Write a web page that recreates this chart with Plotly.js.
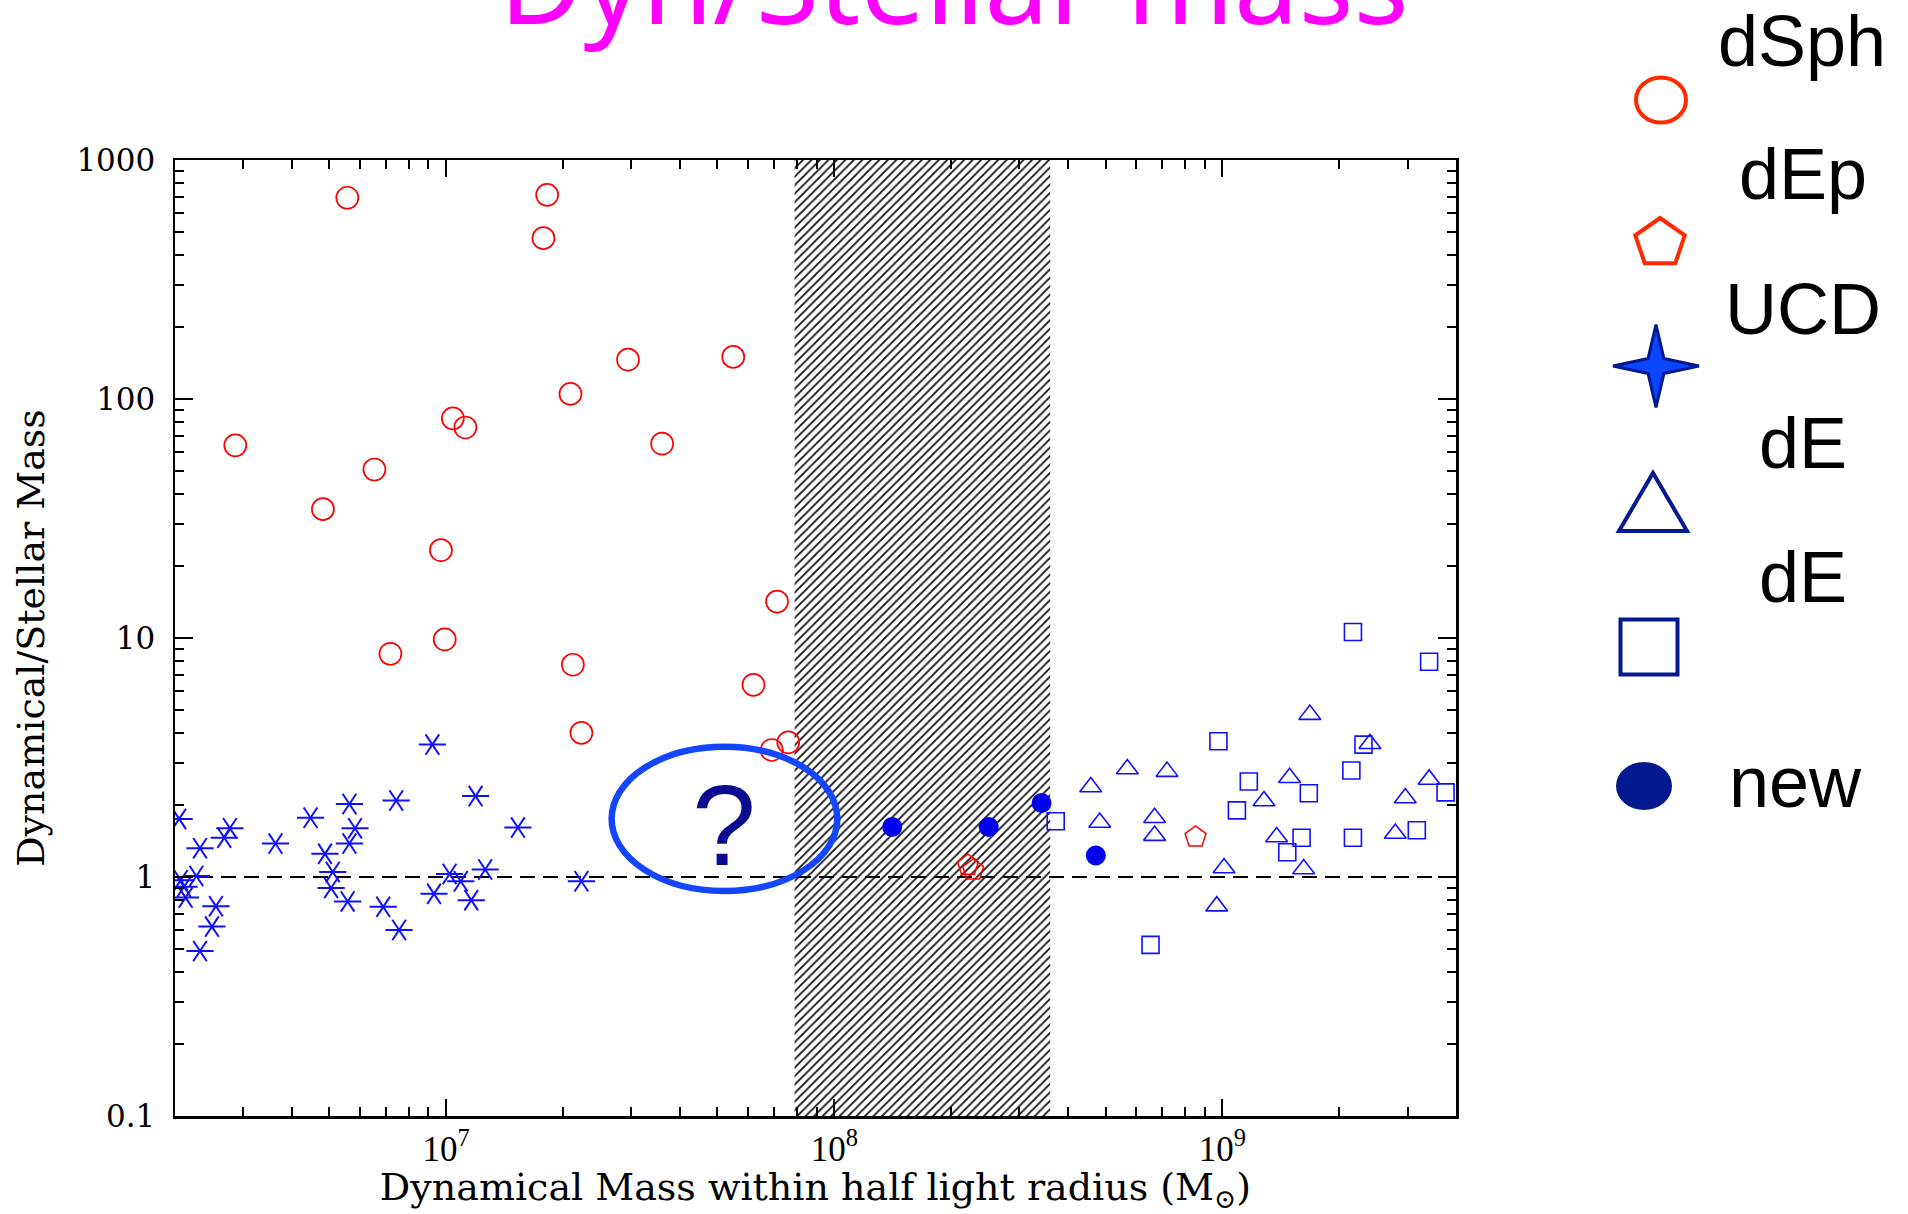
<!DOCTYPE html>
<html>
<head>
<meta charset="utf-8">
<script src="https://cdn.plot.ly/plotly-3.0.1.min.js"></script>
<style>
  html, body { margin: 0; padding: 0; background: #fff; }
  #chart { width: 1908px; height: 1214px; }
</style>
</head>
<body>
<div id="chart"></div>
<script>
// ---- data: dynamical mass within r_half (Msun) and dynamical/stellar mass ratio ----
const dsphMass  = [5.56e6, 1.82e7, 1.78e7, 2.94e7, 5.49e7, 2.09e7, 1.04e7, 1.12e7, 2.86e6, 3.60e7,
                   6.53e6, 4.81e6, 9.69e6, 7.12e7, 9.91e6, 7.18e6, 2.12e7, 6.19e7, 2.23e7, 6.90e7, 7.61e7];
const dsphRatio = [695, 715, 471, 146, 150, 105, 83, 76, 64, 65,
                   50.7, 34.6, 23.3, 14.2, 9.86, 8.59, 7.73, 6.37, 4.01, 3.40, 3.66];

const depMass  = [2.21e8, 2.28e8, 8.53e8];
const depRatio = [1.12, 1.07, 1.47];

const ucdMass  = [2.05e6, 2.32e6, 2.68e6, 2.77e6, 3.63e6, 4.47e6, 5.63e6, 5.82e6, 5.63e6, 4.87e6,
                  5.10e6, 5.05e6, 5.57e6, 2.27e6, 2.07e6, 2.11e6, 2.13e6, 2.55e6, 2.49e6, 2.32e6,
                  9.21e6, 7.43e6, 1.19e7, 1.53e7, 1.02e7, 1.09e7, 1.26e7, 9.30e6, 1.16e7, 6.88e6,
                  7.56e6, 2.23e7];
const ucdRatio = [1.75, 1.32, 1.46, 1.60, 1.38, 1.77, 2.02, 1.60, 1.38, 1.25,
                  1.05, 0.90, 0.79, 1.01, 0.97, 0.91, 0.82, 0.755, 0.62, 0.49,
                  3.58, 2.09, 2.18, 1.61, 1.03, 0.96, 1.075, 0.85, 0.80, 0.75,
                  0.60, 0.96];

const deTriMass  = [4.58e8, 5.69e8, 7.20e8, 4.83e8, 6.69e8, 6.69e8, 1.01e9, 9.67e8, 1.68e9,
                    2.40e9, 1.49e9, 1.28e9, 1.38e9, 1.62e9, 2.96e9, 3.41e9, 2.79e9];
const deTriRatio = [2.38, 2.83, 2.76, 1.69, 1.77, 1.49, 1.09, 0.755, 4.78,
                    3.61, 2.60, 2.08, 1.47, 1.08, 2.14, 2.56, 1.52];

const deSqMass  = [2.17e9, 3.41e9, 9.77e8, 2.31e9, 1.17e9, 2.15e9, 1.67e9, 3.76e9,
                   3.72e8, 1.09e9, 1.60e9, 2.17e9, 3.17e9, 1.47e9, 6.53e8];
const deSqRatio = [10.6, 7.95, 3.70, 3.58, 2.51, 2.79, 2.24, 2.26,
                   1.71, 1.90, 1.46, 1.46, 1.57, 1.27, 0.52];

const newMass  = [1.41e8, 2.50e8, 3.42e8, 4.72e8];
const newRatio = [1.62, 1.62, 2.04, 1.23];

// mass interval shown as the hatched gap
const gapMass = [7.9e7, 3.6e8];
// unit ratio reference
const unitRatio = 1;

// axis extents and labels
const massRange  = [2e6, 4e9];
const ratioRange = [0.1, 1000];
const massTicks  = [1e7, 1e8, 1e9];
const massTickText  = ['10<sup>7</sup>', '10<sup>8</sup>', '10<sup>9</sup>'];
const ratioTicks = [0.1, 1, 10, 100, 1000];
const ratioTickText = ['0.1', '1', '10', '100', '1000'];

const legendLabels = ['dSph', 'dEp', 'UCD', 'dE', 'dE', 'new'];

// ---- page geometry ----
const W = 1908, H = 1214;
const margin = { l: 175, r: 452, t: 160, b: 98 };
const plotW = W - margin.l - margin.r;
const plotH = H - margin.t - margin.b;
const px = x => (x - margin.l) / plotW;            // page px -> paper x
const py = y => (H - margin.b - y) / plotH;         // page px -> paper y

function minorTicks(lo, hi) {
  const out = [];
  for (let d = Math.floor(Math.log10(lo)); d <= Math.ceil(Math.log10(hi)); d++) {
    for (let k = 2; k <= 9; k++) {
      const v = k * Math.pow(10, d);
      if (v > lo && v < hi) out.push(v);
    }
  }
  return out;
}

const RED = '#ff0000';
const BLUE = '#1010ff';

const traces = [
  { // hatched gap
    x: [gapMass[0], gapMass[1], gapMass[1], gapMass[0], gapMass[0]],
    y: [ratioRange[0], ratioRange[0], ratioRange[1], ratioRange[1], ratioRange[0]],
    mode: 'lines', line: { width: 0, color: 'rgba(0,0,0,0)' },
    fill: 'toself', fillcolor: 'rgba(255,255,255,0)',
    fillpattern: { shape: '/', size: 6, solidity: 0.3, fgcolor: '#111', bgcolor: 'rgba(255,255,255,0)' },
    hoverinfo: 'skip', showlegend: false
  },
  { // M_dyn = M_star
    x: massRange, y: [unitRatio, unitRatio], mode: 'lines',
    line: { color: '#000', width: 2, dash: '15px,8px' }, hoverinfo: 'skip', showlegend: false
  },
  { name: 'dSph', x: dsphMass, y: dsphRatio, mode: 'markers',
    marker: { symbol: 'circle-open', size: 22, color: RED, line: { width: 1.7, color: RED } } },
  { name: 'dEp', x: depMass, y: depRatio, mode: 'markers',
    marker: { symbol: 'pentagon-open', size: 22, color: RED, line: { width: 1.5, color: RED } } },
  { name: 'UCD', x: ucdMass, y: ucdRatio, mode: 'markers',
    marker: { symbol: 'y-up', angle: 90, size: 17, color: BLUE, line: { width: 2, color: BLUE } } },
  { name: 'UCD', x: ucdMass, y: ucdRatio, mode: 'markers', showlegend: false,
    marker: { symbol: 'y-down', angle: 90, size: 17, color: BLUE, line: { width: 2, color: BLUE } } },
  { name: 'dE', x: deTriMass, y: deTriRatio, mode: 'markers',
    marker: { symbol: 'triangle-up-open', size: 19, color: BLUE, line: { width: 1.6, color: BLUE } } },
  { name: 'dE', x: deSqMass, y: deSqRatio, mode: 'markers',
    marker: { symbol: 'square-open', size: 17, color: BLUE, line: { width: 1.6, color: BLUE } } },
  { name: 'new', x: newMass, y: newRatio, mode: 'markers',
    marker: { symbol: 'circle', size: 20, color: '#0000ee', line: { width: 0 } } }
];

// ---- key on the right: glyph centres in page pixels ----
const LRED = '#ff2a00', LNAVY = '#04198f', LSTAR = '#0a46ff';
const keyGlyph = [
  { cx: 1661, cy: 100 }, { cx: 1660, cy: 243 }, { cx: 1656, cy: 366 },
  { cx: 1653, cy: 502 }, { cx: 1649, cy: 647 }, { cx: 1644, cy: 786 }
];
const keyText = [
  { cx: 1802, cy: 41 }, { cx: 1803, cy: 174 }, { cx: 1803, cy: 309 },
  { cx: 1803, cy: 443 }, { cx: 1803, cy: 577 }, { cx: 1795, cy: 782 }
];

function polyPath(pts) {
  return pts.map((p, i) => (i ? 'L' : 'M') + px(p[0]).toFixed(5) + ',' + py(p[1]).toFixed(5)).join(' ') + ' Z';
}
function ellipse(c, rx, ry, color, width, fill) {
  return { type: 'circle', xref: 'paper', yref: 'paper',
           x0: px(c.cx - rx), x1: px(c.cx + rx), y0: py(c.cy + ry), y1: py(c.cy - ry),
           line: { color: color, width: width }, fillcolor: fill || 'rgba(0,0,0,0)' };
}
function pentagon(c, rx, ry) {
  const pts = [];
  for (let k = 0; k < 5; k++) {
    const a = (-90 + 72 * k) * Math.PI / 180;
    pts.push([c.cx + rx * Math.cos(a), c.cy + ry * Math.sin(a)]);
  }
  return pts;
}
function star4(c, rx, ry, inner) {
  const pts = [];
  for (let k = 0; k < 8; k++) {
    const a = (45 * k) * Math.PI / 180;
    const r = k % 2 ? inner : 1;
    pts.push([c.cx + rx * r * Math.cos(a), c.cy + ry * r * Math.sin(a)]);
  }
  return pts;
}

const keyShapes = [
  ellipse(keyGlyph[0], 25, 22.5, LRED, 4),
  { type: 'path', xref: 'paper', yref: 'paper', path: polyPath(pentagon(keyGlyph[1], 26, 25)),
    line: { color: LRED, width: 4 } },
  { type: 'path', xref: 'paper', yref: 'paper', path: polyPath(star4(keyGlyph[2], 43, 41.5, 0.26)),
    line: { color: LNAVY, width: 3 }, fillcolor: LSTAR },
  { type: 'path', xref: 'paper', yref: 'paper',
    path: polyPath([[keyGlyph[3].cx, keyGlyph[3].cy - 29], [keyGlyph[3].cx + 34, keyGlyph[3].cy + 29],
                    [keyGlyph[3].cx - 34, keyGlyph[3].cy + 29]]),
    line: { color: LNAVY, width: 4 } },
  { type: 'rect', xref: 'paper', yref: 'paper',
    x0: px(keyGlyph[4].cx - 28.5), x1: px(keyGlyph[4].cx + 28.5),
    y0: py(keyGlyph[4].cy + 27.5), y1: py(keyGlyph[4].cy - 27.5),
    line: { color: LNAVY, width: 4 } },
  ellipse(keyGlyph[5], 28, 24, LNAVY, 0, LNAVY)
];

const keyAnnotations = legendLabels.map((t, i) => ({
  text: t, xref: 'paper', yref: 'paper', x: px(keyText[i].cx), y: py(keyText[i].cy),
  xanchor: 'center', yanchor: 'middle', showarrow: false,
  font: { family: 'Liberation Sans, Arial, sans-serif', size: 72, color: '#000' }
}));

// the open question in the mass gap
const questionRing = { type: 'circle', xref: 'paper', yref: 'paper',
  x0: px(611.6), x1: px(837.3), y0: py(891), y1: py(746.7),
  line: { color: '#1446ff', width: 6.5 } };
const questionMark = { text: '?', xref: 'paper', yref: 'paper', x: px(724), y: py(825),
  xanchor: 'center', yanchor: 'middle', showarrow: false,
  font: { family: 'Liberation Sans, Arial, sans-serif', size: 115, color: '#0b0b8f' } };

const serif = 'DejaVu Serif, serif';
const layout = {
  width: W, height: H,
  margin: margin,
  paper_bgcolor: '#fff', plot_bgcolor: '#fff',
  showlegend: false,
  title: {
    text: 'Dyn/Stellar mass',
    font: { family: 'Comic Sans MS, Noto Sans, sans-serif', size: 115, color: '#ff00ff' },
    x: 954 / W, xanchor: 'center', xref: 'container',
    y: 1 - 24 / H, yanchor: 'bottom', yref: 'container'
  },
  xaxis: {
    type: 'log', range: [Math.log10(massRange[0]), Math.log10(massRange[1])],
    tickmode: 'array', tickvals: massTicks, ticktext: massTickText,
    ticks: 'inside', ticklen: 17, tickwidth: 2, tickcolor: '#000',
    showline: true, linewidth: 2.5, linecolor: '#000', mirror: 'ticks',
    showgrid: false, zeroline: false,
    tickfont: { family: 'Liberation Serif, serif', size: 35, color: '#000' },
    ticklabelstandoff: 0,
    minor: { tickmode: 'array', tickvals: minorTicks(massRange[0], massRange[1]),
             ticks: 'inside', ticklen: 9, tickwidth: 2, tickcolor: '#000', showgrid: false },
    title: { text: 'Dynamical Mass within half light radius (M<sub>⊙</sub>)',
             font: { family: serif, size: 38, color: '#000' }, standoff: 10 }
  },
  yaxis: {
    type: 'log', range: [Math.log10(ratioRange[0]), Math.log10(ratioRange[1])],
    tickmode: 'array', tickvals: ratioTicks, ticktext: ratioTickText,
    ticks: 'inside', ticklen: 18, tickwidth: 2, tickcolor: '#000',
    showline: true, linewidth: 2.5, linecolor: '#000', mirror: 'ticks',
    showgrid: false, zeroline: false,
    tickfont: { family: serif, size: 31, color: '#000' },
    ticklabelstandoff: 11,
    minor: { tickmode: 'array', tickvals: minorTicks(ratioRange[0], ratioRange[1]),
             ticks: 'inside', ticklen: 9, tickwidth: 2, tickcolor: '#000', showgrid: false },
    title: { text: 'Dynamical/Stellar Mass', font: { family: serif, size: 38, color: '#000' }, standoff: 20 }
  },
  shapes: [questionRing].concat(keyShapes),
  annotations: [questionMark].concat(keyAnnotations)
};

Plotly.newPlot('chart', traces, layout, { displayModeBar: false, staticPlot: true });
</script>
</body>
</html>
